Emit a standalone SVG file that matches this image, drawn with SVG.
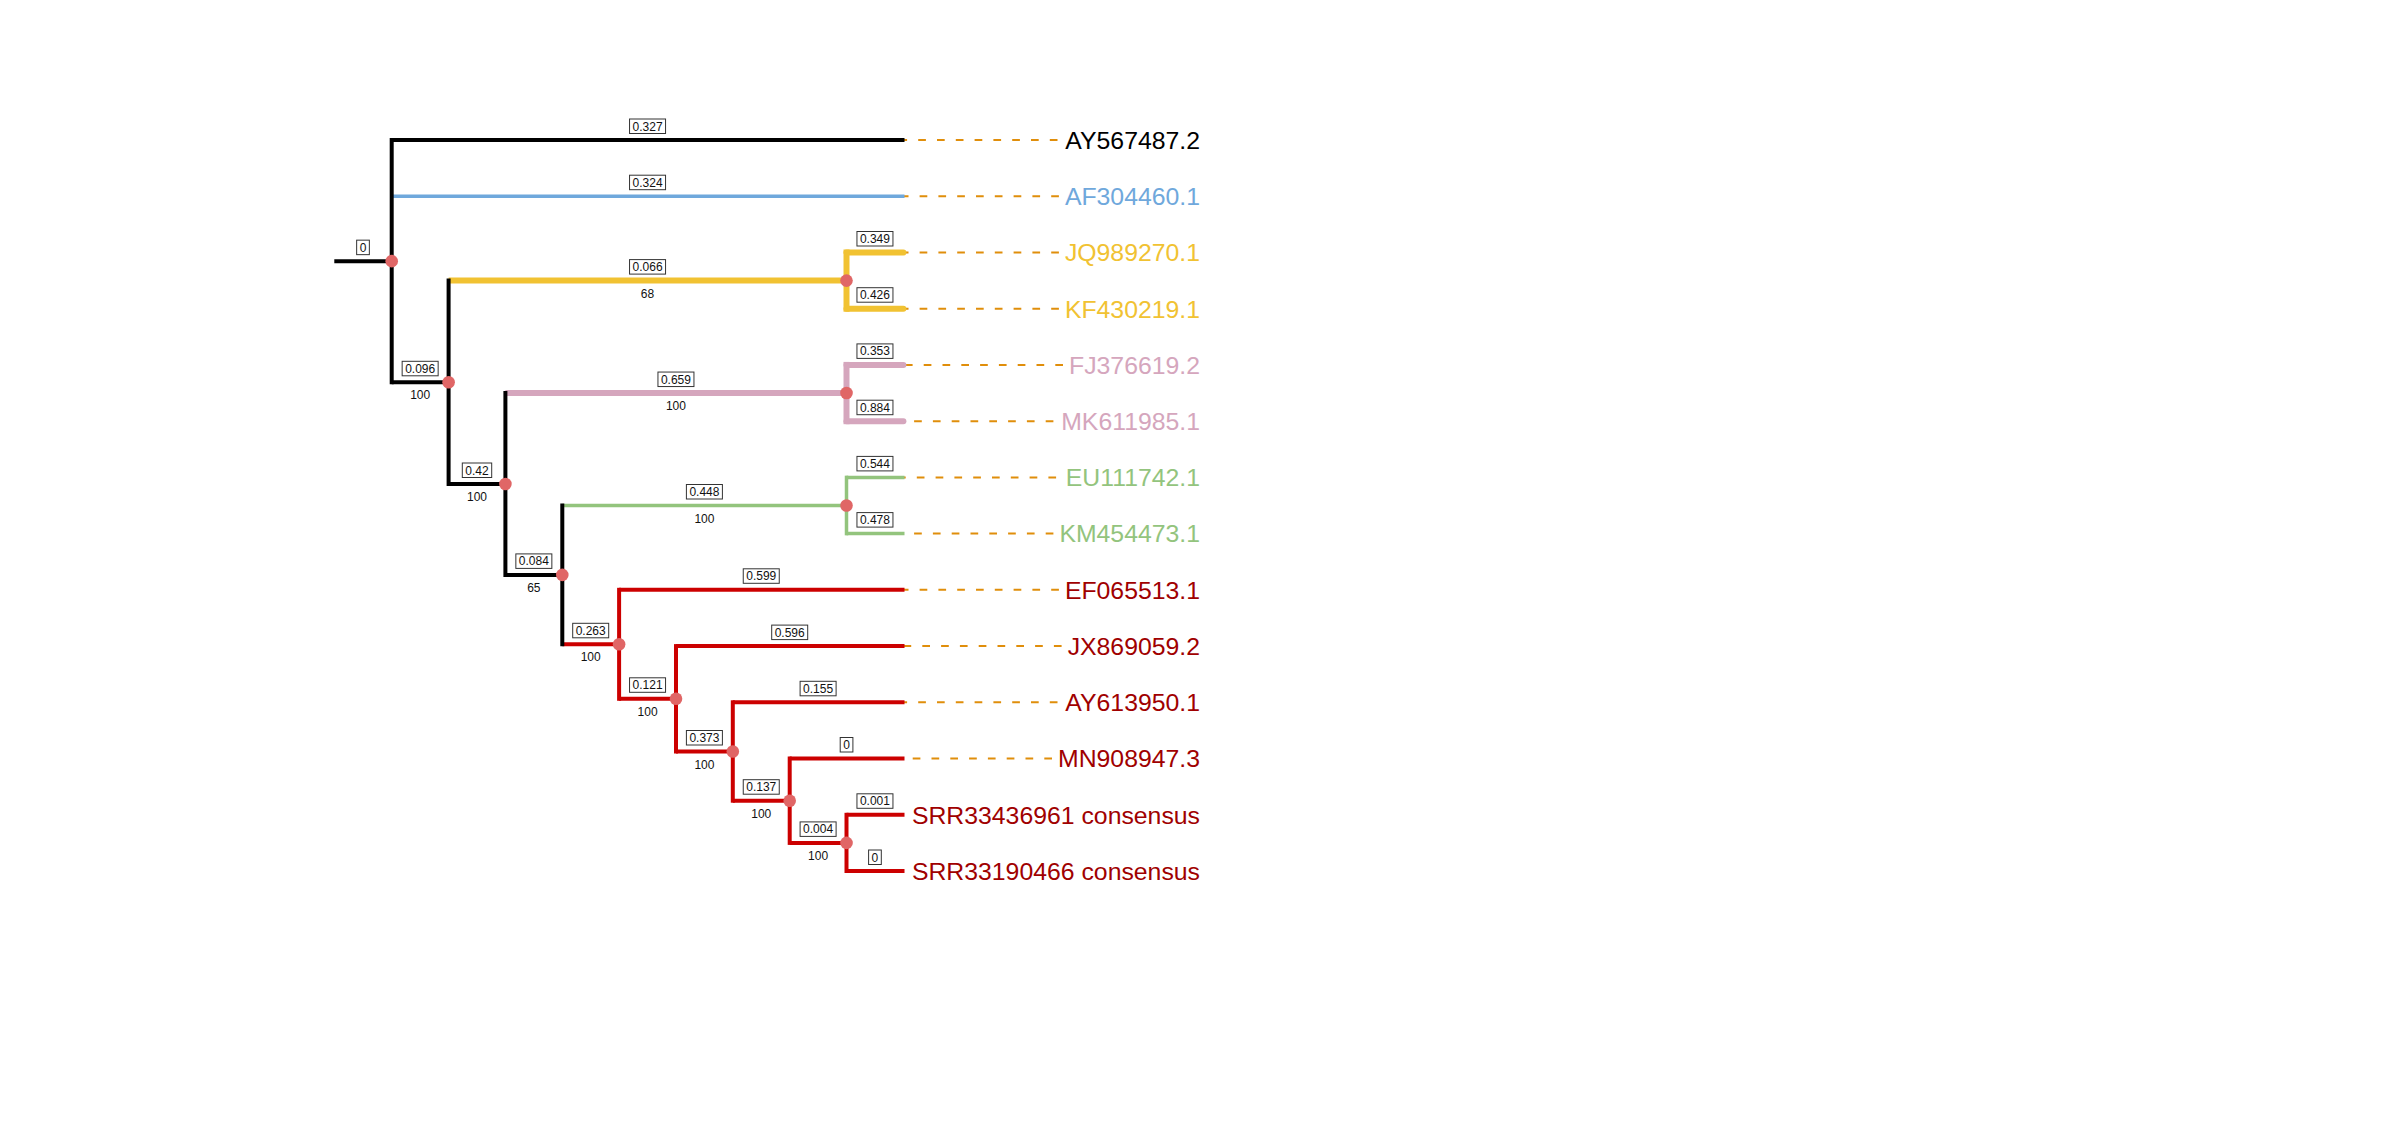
<svg xmlns="http://www.w3.org/2000/svg" width="2400" height="1139" viewBox="0 0 2400 1139">
<style>
.lead{stroke:#E08E0B;stroke-width:2;stroke-dasharray:7.7 11.1;fill:none}
.h{fill:none;stroke-linecap:butt}
.v{fill:none;stroke-linecap:square}
.k{stroke:#000;stroke-width:4}
.b{stroke:#6FA8DC;stroke-width:3.5}
.y{stroke:#F1C232;stroke-width:6}
.p{stroke:#D5A6BD;stroke-width:6}
.g{stroke:#93C47D;stroke-width:3.5}
.r{stroke:#CC0000;stroke-width:4}
.rl{stroke-linecap:round}
.bl rect{fill:#fff;stroke:#333;stroke-width:1}
.bl text,.bs{font-family:"Liberation Sans",Arial,sans-serif;font-size:12px;text-anchor:middle;fill:#111}
.nd{fill:#E06666}
.tip{font-family:"Liberation Sans",Arial,sans-serif;font-size:24.8px;text-anchor:end}
</style>
<rect width="2400" height="1139" fill="#fff"/>

<g id="leaders">
<line class="lead" x1="1057.5" y1="140" x2="901" y2="140"/>
<line class="lead" x1="1058.9" y1="196.2" x2="901" y2="196.2"/>
<line class="lead" x1="1058.9" y1="252.5" x2="901" y2="252.5"/>
<line class="lead" x1="1058.9" y1="308.7" x2="901" y2="308.7"/>
<line class="lead" x1="1063" y1="364.9" x2="901" y2="364.9"/>
<line class="lead" x1="1053.4" y1="421.2" x2="901" y2="421.2"/>
<line class="lead" x1="1056.1" y1="477.4" x2="901" y2="477.4"/>
<line class="lead" x1="1053.4" y1="533.6" x2="901" y2="533.6"/>
<line class="lead" x1="1058.9" y1="589.8" x2="901" y2="589.8"/>
<line class="lead" x1="1061.6" y1="646.1" x2="901" y2="646.1"/>
<line class="lead" x1="1057.5" y1="702.3" x2="901" y2="702.3"/>
<line class="lead" x1="1052" y1="758.5" x2="901" y2="758.5"/>
</g>

<g id="connectors">
<!-- horizontals -->
<line class="h k" x1="334.3" y1="261.15" x2="391.7" y2="261.15"/>
<line class="h k" x1="391.7" y1="140" x2="904.5" y2="140"/>
<line class="h b" x1="391.7" y1="196.2" x2="904.5" y2="196.2"/>
<line class="h k" x1="391.7" y1="382.3" x2="448.6" y2="382.3"/>
<line class="h y" x1="448.6" y1="280.6" x2="846.5" y2="280.6"/>
<line class="h y rl" x1="846.5" y1="252.5" x2="903.4" y2="252.5"/>
<line class="h y rl" x1="846.5" y1="308.7" x2="903.4" y2="308.7"/>
<line class="h k" x1="448.6" y1="484" x2="505.4" y2="484"/>
<line class="h p" x1="505.4" y1="393.05" x2="846.5" y2="393.05"/>
<line class="h p rl" x1="846.5" y1="364.9" x2="903.4" y2="364.9"/>
<line class="h p rl" x1="846.5" y1="421.2" x2="903.4" y2="421.2"/>
<line class="h k" x1="505.4" y1="574.9" x2="562.3" y2="574.9"/>
<line class="h g" x1="562.3" y1="505.5" x2="846.5" y2="505.5"/>
<line class="h g" x1="846.5" y1="477.4" x2="904.5" y2="477.4"/>
<line class="h g" x1="846.5" y1="533.6" x2="904.5" y2="533.6"/>
<line class="h r" x1="562.3" y1="644.3" x2="619.1" y2="644.3"/>
<line class="h r" x1="619.1" y1="589.8" x2="904.5" y2="589.8"/>
<line class="h r" x1="619.1" y1="698.8" x2="676" y2="698.8"/>
<line class="h r" x1="676" y1="646.1" x2="904.5" y2="646.1"/>
<line class="h r" x1="676" y1="751.5" x2="732.8" y2="751.5"/>
<line class="h r" x1="732.8" y1="702.3" x2="904.5" y2="702.3"/>
<line class="h r" x1="732.8" y1="800.7" x2="789.7" y2="800.7"/>
<line class="h r" x1="789.7" y1="758.5" x2="904.5" y2="758.5"/>
<line class="h r" x1="789.7" y1="842.9" x2="846.5" y2="842.9"/>
<line class="h r" x1="846.5" y1="814.8" x2="904.5" y2="814.8"/>
<line class="h r" x1="846.5" y1="871" x2="904.5" y2="871"/>
<!-- verticals -->
<line class="v k" x1="391.7" y1="140" x2="391.7" y2="382.3"/>
<line class="v k" x1="448.6" y1="280.6" x2="448.6" y2="484"/>
<line class="v y" x1="846.5" y1="252.5" x2="846.5" y2="308.7"/>
<line class="v k" x1="505.4" y1="393.05" x2="505.4" y2="574.9"/>
<line class="v p" x1="846.5" y1="364.9" x2="846.5" y2="421.2"/>
<line class="v k" x1="562.3" y1="505.5" x2="562.3" y2="644.3"/>
<line class="v g" x1="846.5" y1="477.4" x2="846.5" y2="533.6"/>
<line class="v r" x1="619.1" y1="589.8" x2="619.1" y2="698.8"/>
<line class="v r" x1="676" y1="646.1" x2="676" y2="751.5"/>
<line class="v r" x1="732.8" y1="702.3" x2="732.8" y2="800.7"/>
<line class="v r" x1="789.7" y1="758.5" x2="789.7" y2="842.9"/>
<line class="v r" x1="846.5" y1="814.8" x2="846.5" y2="871"/>
</g>

<g id="branch-lengths" class="bl">
<rect x="356.65" y="240.15" width="12.7" height="14.5"/><text x="363" y="251.65">0</text>
<rect x="629.55" y="119" width="36" height="14.5"/><text x="647.55" y="130.5">0.327</text>
<rect x="629.55" y="175.2" width="36" height="14.5"/><text x="647.55" y="186.7">0.324</text>
<rect x="629.55" y="259.6" width="36" height="14.5"/><text x="647.55" y="271.1">0.066</text>
<rect x="856.95" y="231.5" width="36" height="14.5"/><text x="874.95" y="243">0.349</text>
<rect x="856.95" y="287.7" width="36" height="14.5"/><text x="874.95" y="299.2">0.426</text>
<rect x="402.15" y="361.3" width="36" height="14.5"/><text x="420.15" y="372.8">0.096</text>
<rect x="462.3" y="463" width="29.4" height="14.5"/><text x="477" y="474.5">0.42</text>
<rect x="657.95" y="372.05" width="36" height="14.5"/><text x="675.95" y="383.55">0.659</text>
<rect x="856.95" y="343.9" width="36" height="14.5"/><text x="874.95" y="355.4">0.353</text>
<rect x="856.95" y="400.2" width="36" height="14.5"/><text x="874.95" y="411.7">0.884</text>
<rect x="515.85" y="553.9" width="36" height="14.5"/><text x="533.85" y="565.4">0.084</text>
<rect x="686.4" y="484.5" width="36" height="14.5"/><text x="704.4" y="496">0.448</text>
<rect x="856.95" y="456.4" width="36" height="14.5"/><text x="874.95" y="467.9">0.544</text>
<rect x="856.95" y="512.6" width="36" height="14.5"/><text x="874.95" y="524.1">0.478</text>
<rect x="572.7" y="623.3" width="36" height="14.5"/><text x="590.7" y="634.8">0.263</text>
<rect x="743.25" y="568.8" width="36" height="14.5"/><text x="761.25" y="580.3">0.599</text>
<rect x="629.55" y="677.8" width="36" height="14.5"/><text x="647.55" y="689.3">0.121</text>
<rect x="771.7" y="625.1" width="36" height="14.5"/><text x="789.7" y="636.6">0.596</text>
<rect x="686.4" y="730.5" width="36" height="14.5"/><text x="704.4" y="742">0.373</text>
<rect x="800.1" y="681.3" width="36" height="14.5"/><text x="818.1" y="692.8">0.155</text>
<rect x="743.25" y="779.7" width="36" height="14.5"/><text x="761.25" y="791.2">0.137</text>
<rect x="840.2" y="737.5" width="12.7" height="14.5"/><text x="846.55" y="749">0</text>
<rect x="800.1" y="821.9" width="36" height="14.5"/><text x="818.1" y="833.4">0.004</text>
<rect x="856.95" y="793.8" width="36" height="14.5"/><text x="874.95" y="805.3">0.001</text>
<rect x="868.6" y="850" width="12.7" height="14.5"/><text x="874.95" y="861.5">0</text>
</g>

<g id="n-root"><circle class="nd" cx="391.7" cy="261.15" r="6.3"/></g>
<g id="n2"><circle class="nd" cx="448.6" cy="382.3" r="6.3"/><text class="bs" x="420.15" y="399.3">100</text></g>
<g id="n-yellow"><circle class="nd" cx="846.5" cy="280.6" r="6.3"/><text class="bs" x="647.55" y="297.6">68</text></g>
<g id="n3"><circle class="nd" cx="505.4" cy="484" r="6.3"/><text class="bs" x="477" y="501">100</text></g>
<g id="n-pink"><circle class="nd" cx="846.5" cy="393.05" r="6.3"/><text class="bs" x="675.95" y="410.05">100</text></g>
<g id="n4"><circle class="nd" cx="562.3" cy="574.9" r="6.3"/><text class="bs" x="533.85" y="591.9">65</text></g>
<g id="n-green"><circle class="nd" cx="846.5" cy="505.5" r="6.3"/><text class="bs" x="704.4" y="522.5">100</text></g>
<g id="n5"><circle class="nd" cx="619.1" cy="644.3" r="6.3"/><text class="bs" x="590.7" y="661.3">100</text></g>
<g id="n6"><circle class="nd" cx="676" cy="698.8" r="6.3"/><text class="bs" x="647.55" y="715.8">100</text></g>
<g id="n7"><circle class="nd" cx="732.8" cy="751.5" r="6.3"/><text class="bs" x="704.4" y="768.5">100</text></g>
<g id="n8"><circle class="nd" cx="789.7" cy="800.7" r="6.3"/><text class="bs" x="761.25" y="817.7">100</text></g>
<g id="n9"><circle class="nd" cx="846.5" cy="842.9" r="6.3"/><text class="bs" x="818.1" y="859.9">100</text></g>

<g id="tip-AY567487.2"><text class="tip" x="1200" y="148.8" fill="#000">AY567487.2</text></g>
<g id="tip-AF304460.1"><text class="tip" x="1200" y="205" fill="#6FA8DC">AF304460.1</text></g>
<g id="tip-JQ989270.1"><text class="tip" x="1200" y="261.3" fill="#F1C232">JQ989270.1</text></g>
<g id="tip-KF430219.1"><text class="tip" x="1200" y="317.5" fill="#F1C232">KF430219.1</text></g>
<g id="tip-FJ376619.2"><text class="tip" x="1200" y="373.7" fill="#D5A6BD">FJ376619.2</text></g>
<g id="tip-MK611985.1"><text class="tip" x="1200" y="430" fill="#D5A6BD">MK611985.1</text></g>
<g id="tip-EU111742.1"><text class="tip" x="1200" y="486.2" fill="#93C47D">EU111742.1</text></g>
<g id="tip-KM454473.1"><text class="tip" x="1200" y="542.4" fill="#93C47D">KM454473.1</text></g>
<g id="tip-EF065513.1"><text class="tip" x="1200" y="598.6" fill="#A00000">EF065513.1</text></g>
<g id="tip-JX869059.2"><text class="tip" x="1200" y="654.9" fill="#A00000">JX869059.2</text></g>
<g id="tip-AY613950.1"><text class="tip" x="1200" y="711.1" fill="#A00000">AY613950.1</text></g>
<g id="tip-MN908947.3"><text class="tip" x="1200" y="767.3" fill="#A00000">MN908947.3</text></g>
<g id="tip-SRR33436961"><text class="tip" x="1200" y="823.6" fill="#A00000">SRR33436961 consensus</text></g>
<g id="tip-SRR33190466"><text class="tip" x="1200" y="879.8" fill="#A00000">SRR33190466 consensus</text></g>
</svg>
